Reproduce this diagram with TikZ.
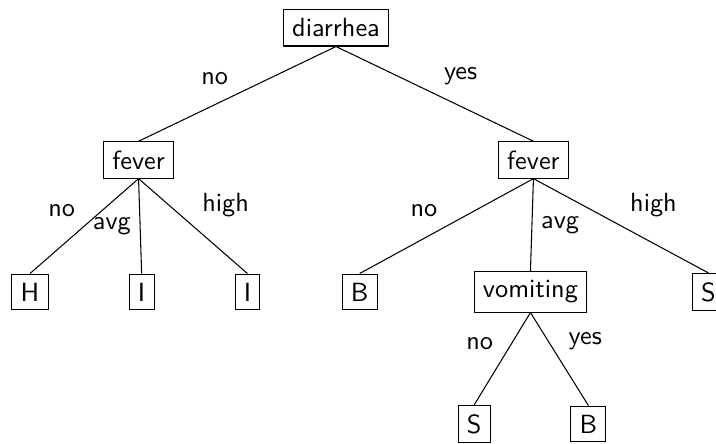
\documentclass[tikz,border=0pt]{standalone}
\usepackage{tikz}
\usetikzlibrary{positioning}

\begin{document}
\begin{tikzpicture}[node distance=1.765cm]
        \tikzstyle{box} = [rectangle, draw, font=\sffamily]
        \tikzstyle{lbl} = [font=\sffamily]
        \useasboundingbox (-4.493,-5.562) rectangle (5.081,0.374);

        \node (diarrhea) [box] {diarrhea};
        \node (feverL) [box, below of=diarrhea, xshift=-2.64cm] {fever};
        \node (feverR) [box, below of=diarrhea, xshift=2.64cm] {fever};
        \node (h) [box, below of=feverL, xshift=-1.452cm] {H};
        \node (iavg) [box, below of=feverL, xshift=0.041cm] {I};
        \node (ihigh) [box, below of=feverL, xshift=1.456cm] {I};
        \node (bno) [box, below of=feverR, xshift=-2.324cm] {B};
        \node (vomiting) [box, below of=feverR, xshift=-0.04cm] {vomiting};
        \node (shigh) [box, below of=feverR, xshift=2.34cm] {S};
        \node (sno) [box, below of=vomiting, xshift=-0.753cm] {S};
        \node (byes) [box, below of=vomiting, xshift=0.775cm] {B};

        \draw (diarrhea.south) -- node[lbl, above left] {no} (feverL.north);
        \draw (diarrhea.south) -- node[lbl, above right] {yes} (feverR.north);
        \draw (feverL.south) -- node[lbl, above left] {no} (h.north);
        \draw (feverL.south) -- node[lbl, left] {avg} (iavg.north);
        \draw (feverL.south) -- node[lbl, above right] {high} (ihigh.north);
        \draw (feverR.south) -- node[lbl, above left] {no} (bno.north);
        \draw (feverR.south) -- node[lbl, right] {avg} (vomiting.north);
        \draw (feverR.south) -- node[lbl, above right] {high} (shigh.north);
        \draw (vomiting.south) -- node[lbl, above left] {no} (sno.north);
        \draw (vomiting.south) -- node[lbl, above right] {yes} (byes.north);
    \end{tikzpicture}
\end{document}
